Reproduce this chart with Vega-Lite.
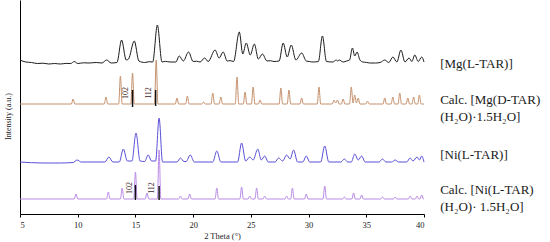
{
  "$schema": "https://vega.github.io/schema/vega-lite/v6.json",
  "width": 404,
  "height": 214,
  "autosize": "none",
  "padding": {"left": 20, "top": 0, "right": 126, "bottom": 28},
  "background": "white",
  "config": {"view": {"stroke": null}, "font": "Liberation Serif"},
  "datasets": {
    "mgexp": [
      {"x":5.0,"y":154},{"x":5.5,"y":152},{"x":6.0,"y":151.5},{"x":6.5,"y":150.5},{"x":7.0,"y":150.8},{"x":7.5,"y":150},{"x":8.0,"y":150.5},{"x":8.5,"y":150},{"x":9.0,"y":150.6},{"x":9.4,"y":150.5},{"x":9.7,"y":152.5},{"x":10.0,"y":150.5},{"x":10.5,"y":151.2},{"x":11.0,"y":151},{"x":11.6,"y":151.5},{"x":12.1,"y":151},{"x":12.5,"y":154},{"x":12.9,"y":151},{"x":13.4,"y":151.5},{"x":13.8,"y":174},{"x":14.2,"y":154},{"x":14.4,"y":155},{"x":14.9,"y":173},{"x":15.3,"y":153},{"x":15.8,"y":151.5},{"x":16.2,"y":152.3},{"x":16.5,"y":152},{"x":16.9,"y":189},{"x":17.3,"y":152},{"x":17.6,"y":152.6},{"x":18.0,"y":152},{"x":18.5,"y":152},{"x":18.8,"y":158},{"x":19.15,"y":153},{"x":19.6,"y":162},{"x":20.0,"y":152.5},{"x":20.3,"y":152.8},{"x":20.6,"y":152},{"x":21.0,"y":156},{"x":21.3,"y":152.5},{"x":21.9,"y":164},{"x":22.25,"y":156},{"x":22.6,"y":162},{"x":22.95,"y":153},{"x":23.2,"y":153.4},{"x":23.5,"y":152.5},{"x":24.0,"y":182},{"x":24.3,"y":160},{"x":24.6,"y":171},{"x":24.95,"y":159},{"x":25.3,"y":170},{"x":25.65,"y":155},{"x":26.0,"y":160},{"x":26.4,"y":153},{"x":26.7,"y":153.3},{"x":27.0,"y":152.5},{"x":27.45,"y":153},{"x":27.8,"y":171},{"x":28.15,"y":157},{"x":28.5,"y":169},{"x":28.9,"y":154},{"x":29.4,"y":161},{"x":29.8,"y":153},{"x":30.1,"y":152.4},{"x":30.4,"y":152},{"x":30.85,"y":152.5},{"x":31.2,"y":178},{"x":31.55,"y":152.5},{"x":32.1,"y":152},{"x":32.4,"y":154},{"x":32.5,"y":153},{"x":32.65,"y":154},{"x":33.0,"y":152},{"x":33.3,"y":153},{"x":33.55,"y":154},{"x":33.8,"y":166},{"x":34.0,"y":158},{"x":34.2,"y":162},{"x":34.45,"y":154},{"x":34.7,"y":152},{"x":35.0,"y":151.6},{"x":35.3,"y":151},{"x":35.8,"y":151},{"x":36.2,"y":151.5},{"x":36.6,"y":154},{"x":36.95,"y":151.5},{"x":37.3,"y":157},{"x":37.65,"y":152},{"x":38.0,"y":164},{"x":38.35,"y":152},{"x":38.7,"y":156},{"x":38.95,"y":152.5},{"x":39.2,"y":159},{"x":39.5,"y":152.5},{"x":39.8,"y":157},{"x":40.0,"y":152}
    ],
    "mgcalc": [
      {"x":5.0,"y":110},{"x":9.45,"y":110},{"x":9.6,"y":115},{"x":9.75,"y":110},{"x":12.3,"y":110},{"x":12.45,"y":117},{"x":12.6,"y":110},{"x":13.55,"y":110},{"x":13.7,"y":138},{"x":13.85,"y":110},{"x":14.6,"y":110},{"x":14.75,"y":141},{"x":14.9,"y":110},{"x":16.65,"y":110},{"x":16.8,"y":154},{"x":16.95,"y":110},{"x":18.45,"y":110},{"x":18.6,"y":116},{"x":18.75,"y":110},{"x":19.35,"y":110},{"x":19.5,"y":118},{"x":19.65,"y":110},{"x":20.75,"y":110},{"x":20.9,"y":112},{"x":21.05,"y":110},{"x":21.55,"y":110},{"x":21.7,"y":121},{"x":21.85,"y":110},{"x":22.25,"y":110},{"x":22.4,"y":117},{"x":22.55,"y":110},{"x":23.65,"y":110},{"x":23.8,"y":137},{"x":23.95,"y":110},{"x":24.35,"y":110},{"x":24.5,"y":122},{"x":24.65,"y":110},{"x":25.05,"y":110},{"x":25.2,"y":127},{"x":25.35,"y":110},{"x":25.65,"y":110},{"x":25.8,"y":114},{"x":25.95,"y":110},{"x":27.45,"y":110},{"x":27.6,"y":126},{"x":27.75,"y":110},{"x":28.15,"y":110},{"x":28.3,"y":124},{"x":28.45,"y":110},{"x":29.25,"y":110},{"x":29.4,"y":116},{"x":29.55,"y":110},{"x":30.75,"y":110},{"x":30.9,"y":127},{"x":31.05,"y":110},{"x":32.05,"y":110},{"x":32.2,"y":114},{"x":32.35,"y":111},{"x":32.5,"y":114},{"x":32.65,"y":110},{"x":32.85,"y":110},{"x":33.0,"y":115},{"x":33.15,"y":110},{"x":33.55,"y":110},{"x":33.7,"y":127},{"x":33.85,"y":111},{"x":34.0,"y":119},{"x":34.15,"y":111},{"x":34.3,"y":116},{"x":34.45,"y":110},{"x":34.95,"y":110},{"x":35.1,"y":113},{"x":35.25,"y":110},{"x":36.45,"y":110},{"x":36.6,"y":116},{"x":36.75,"y":110},{"x":37.15,"y":110},{"x":37.3,"y":117},{"x":37.45,"y":110},{"x":37.75,"y":110},{"x":37.9,"y":121},{"x":38.05,"y":110},{"x":38.45,"y":110},{"x":38.6,"y":116},{"x":38.75,"y":110},{"x":38.95,"y":110},{"x":39.1,"y":117},{"x":39.25,"y":110},{"x":39.45,"y":110},{"x":39.6,"y":119},{"x":39.75,"y":110},{"x":40.0,"y":110}
    ],
    "niexp": [
      {"x":5.0,"y":52},{"x":7.0,"y":51},{"x":8.5,"y":51},{"x":9.6,"y":51.5},{"x":9.95,"y":54},{"x":10.3,"y":52},{"x":12.35,"y":52},{"x":12.7,"y":57},{"x":13.05,"y":52},{"x":13.6,"y":52},{"x":13.95,"y":65},{"x":14.3,"y":53},{"x":14.7,"y":53},{"x":15.05,"y":81},{"x":15.4,"y":53},{"x":15.8,"y":52.5},{"x":16.1,"y":59},{"x":16.4,"y":53},{"x":16.75,"y":53},{"x":17.05,"y":96},{"x":17.35,"y":52},{"x":18.6,"y":52},{"x":18.9,"y":56},{"x":19.2,"y":52.5},{"x":19.4,"y":52.5},{"x":19.75,"y":59},{"x":20.1,"y":52},{"x":21.7,"y":52},{"x":22.05,"y":63},{"x":22.4,"y":52},{"x":23.85,"y":52},{"x":24.2,"y":71},{"x":24.55,"y":53},{"x":24.9,"y":57},{"x":25.2,"y":54},{"x":25.6,"y":65},{"x":25.9,"y":54},{"x":26.2,"y":58},{"x":26.5,"y":52},{"x":27.1,"y":52},{"x":27.4,"y":56},{"x":27.75,"y":53},{"x":28.1,"y":59},{"x":28.4,"y":55},{"x":28.7,"y":64},{"x":29.05,"y":52},{"x":29.5,"y":52},{"x":29.8,"y":58},{"x":30.1,"y":52},{"x":31.05,"y":52},{"x":31.4,"y":68},{"x":31.75,"y":52},{"x":32.8,"y":52},{"x":33.1,"y":55},{"x":33.4,"y":52},{"x":33.7,"y":52},{"x":34.0,"y":60},{"x":34.3,"y":54},{"x":34.6,"y":58},{"x":34.9,"y":52},{"x":36.1,"y":52},{"x":36.4,"y":55},{"x":36.7,"y":52},{"x":37.2,"y":52},{"x":37.5,"y":54},{"x":37.8,"y":52},{"x":38.5,"y":52},{"x":38.8,"y":56},{"x":39.05,"y":53},{"x":39.4,"y":57},{"x":39.6,"y":54},{"x":39.8,"y":58},{"x":40.0,"y":52}
    ],
    "nicalc": [
      {"x":5.0,"y":15},{"x":9.7,"y":15},{"x":9.85,"y":20},{"x":10.0,"y":15},{"x":12.5,"y":15},{"x":12.65,"y":22},{"x":12.8,"y":15},{"x":13.7,"y":15},{"x":13.85,"y":26},{"x":14.0,"y":15},{"x":14.85,"y":15},{"x":15.0,"y":42},{"x":15.15,"y":15},{"x":15.85,"y":15},{"x":16.0,"y":21},{"x":16.15,"y":15},{"x":16.9,"y":15},{"x":17.05,"y":64},{"x":17.2,"y":15},{"x":18.75,"y":15},{"x":18.9,"y":18},{"x":19.05,"y":15},{"x":19.55,"y":15},{"x":19.7,"y":20},{"x":19.85,"y":15},{"x":21.9,"y":15},{"x":22.05,"y":26},{"x":22.2,"y":15},{"x":24.05,"y":15},{"x":24.2,"y":27},{"x":24.35,"y":15},{"x":24.75,"y":15},{"x":24.9,"y":18},{"x":25.05,"y":15},{"x":25.35,"y":15},{"x":25.5,"y":26},{"x":25.65,"y":15},{"x":26.05,"y":15},{"x":26.2,"y":18},{"x":26.35,"y":15},{"x":27.95,"y":15},{"x":28.1,"y":18},{"x":28.25,"y":15},{"x":28.45,"y":15},{"x":28.6,"y":26},{"x":28.75,"y":15},{"x":29.65,"y":15},{"x":29.8,"y":20},{"x":29.95,"y":15},{"x":31.25,"y":15},{"x":31.4,"y":28},{"x":31.55,"y":15},{"x":32.95,"y":15},{"x":33.1,"y":17},{"x":33.25,"y":15},{"x":33.75,"y":15},{"x":33.9,"y":21},{"x":34.05,"y":15},{"x":34.45,"y":15},{"x":34.6,"y":19},{"x":34.75,"y":15},{"x":36.25,"y":15},{"x":36.4,"y":17},{"x":36.55,"y":15},{"x":37.35,"y":15},{"x":37.5,"y":17},{"x":37.65,"y":15},{"x":38.65,"y":15},{"x":38.8,"y":18},{"x":38.95,"y":15},{"x":39.25,"y":15},{"x":39.4,"y":18},{"x":39.55,"y":15},{"x":39.65,"y":15},{"x":39.8,"y":19},{"x":39.95,"y":15},{"x":40.0,"y":15}
    ],
    "markers": [
      {"hkl":"102","x":14.75,"y":107,"y2":124,"tx":14.2,"ty":121},
      {"hkl":"112","x":16.75,"y":108,"y2":124,"tx":16.2,"ty":121},
      {"hkl":"102","x":15.0,"y":14,"y2":29,"tx":14.53,"ty":26},
      {"hkl":"112","x":17.05,"y":14,"y2":28,"tx":16.45,"ty":26}
    ],
    "labels": [
      {"text":"[Mg(L-TAR)]","x":41.4,"y":150},
      {"text":"Calc. [Mg(D-TAR)","x":41.4,"y":114},
      {"text":"(H₂O)·1.5H₂O]","x":41.4,"y":97},
      {"text":"[Ni(L-TAR)]","x":41.4,"y":59},
      {"text":"Calc. [Ni(L-TAR)","x":41.4,"y":24},
      {"text":"(H₂O)· 1.5H₂O]","x":41.4,"y":7}
    ]
  },
  "layer": [
    {
      "data": {"name": "mgexp"},
      "mark": {"type": "line", "color": "#1c1c1c", "strokeWidth": 1, "interpolate": "monotone"},
      "encoding": {
        "x": {"field": "x", "type": "quantitative", "scale": {"domain": [5, 40], "nice": false},
          "axis": {"values": [5,7.5,10,12.5,15,17.5,20,22.5,25,27.5,30,32.5,35,37.5,40],
            "labelExpr": "datum.value % 5 == 0 ? datum.label : ''",
            "title": "2 Theta (°)", "grid": false, "domainColor": "#000", "tickColor": "#000", "tickSize": 3,
            "labelFont": "Liberation Serif", "labelFontSize": 8.5, "labelColor": "#222", "labelPadding": 3,
            "titleFont": "Liberation Serif", "titleFontSize": 8.5, "titleFontWeight": "normal", "titleColor": "#222", "titlePadding": 3}},
        "y": {"field": "y", "type": "quantitative", "scale": {"domain": [0, 214], "nice": false},
          "axis": {"title": "Intensity (a.u.)", "grid": false, "ticks": false, "labels": false, "domainColor": "#000",
            "titleFont": "Liberation Serif", "titleFontSize": 8, "titleFontWeight": "normal", "titleColor": "#222",
            "titlePadding": 8, "titleY": 116, "titleAnchor": "middle"}}
      }
    },
    {
      "data": {"name": "mgcalc"},
      "mark": {"type": "line", "color": "#c4906c", "strokeWidth": 1, "interpolate": "monotone"},
      "encoding": {"x": {"field": "x", "type": "quantitative"}, "y": {"field": "y", "type": "quantitative"}}
    },
    {
      "data": {"name": "niexp"},
      "mark": {"type": "line", "color": "#5a50d8", "strokeWidth": 1, "interpolate": "monotone"},
      "encoding": {"x": {"field": "x", "type": "quantitative"}, "y": {"field": "y", "type": "quantitative"}}
    },
    {
      "data": {"name": "nicalc"},
      "mark": {"type": "line", "color": "#b98ae6", "strokeWidth": 1, "interpolate": "monotone"},
      "encoding": {"x": {"field": "x", "type": "quantitative"}, "y": {"field": "y", "type": "quantitative"}}
    },
    {
      "data": {"name": "markers"},
      "mark": {"type": "rule", "color": "#111", "strokeWidth": 1.5},
      "encoding": {"x": {"field": "x", "type": "quantitative"}, "y": {"field": "y", "type": "quantitative"}, "y2": {"field": "y2"}}
    },
    {
      "data": {"name": "markers"},
      "mark": {"type": "text", "angle": 270, "fontSize": 8, "color": "#3a1a1a", "align": "center", "baseline": "middle", "font": "Liberation Serif"},
      "encoding": {"x": {"field": "tx", "type": "quantitative"}, "y": {"field": "ty", "type": "quantitative"}, "text": {"field": "hkl"}}
    },
    {
      "data": {"name": "labels"},
      "mark": {"type": "text", "fontSize": 13, "color": "#1a1a1a", "align": "left", "baseline": "middle", "font": "Liberation Serif", "clip": false},
      "encoding": {"x": {"field": "x", "type": "quantitative"}, "y": {"field": "y", "type": "quantitative"}, "text": {"field": "text"}}
    }
  ]
}
